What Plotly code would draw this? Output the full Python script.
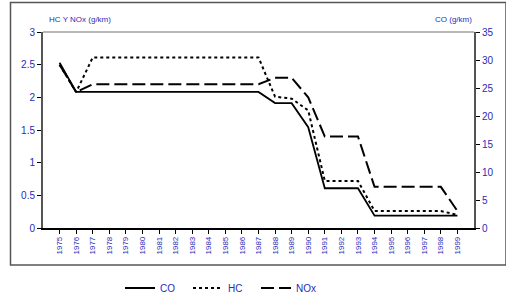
import plotly.graph_objects as go

years = list(range(1975, 2000))
year_labels = [str(y) for y in years]

# CO in g/km (right axis)
co = [29.5, 24.3, 24.3, 24.3, 24.3, 24.3, 24.3, 24.3, 24.3, 24.3, 24.3, 24.3, 24.3,
      22.3, 22.3, 18.0, 7.1, 7.1, 7.1, 2.2, 2.2, 2.2, 2.2, 2.2, 2.2]
# HC in g/km (left axis)
hc = [2.5, 2.08, 2.61, 2.61, 2.61, 2.61, 2.61, 2.61, 2.61, 2.61, 2.61, 2.61, 2.61,
      2.01, 1.98, 1.8, 0.72, 0.72, 0.72, 0.26, 0.26, 0.26, 0.26, 0.26, 0.2]
# NOx in g/km (left axis)
nox = [2.5, 2.08, 2.2, 2.2, 2.2, 2.2, 2.2, 2.2, 2.2, 2.2, 2.2, 2.2, 2.2,
       2.3, 2.3, 2.0, 1.4, 1.4, 1.4, 0.63, 0.63, 0.63, 0.63, 0.63, 0.26]

left_ticks = [0, 0.5, 1, 1.5, 2, 2.5, 3]
right_ticks = [0, 5, 10, 15, 20, 25, 30, 35]

BLUE = "#2A2ABA"
FONT = "Liberation Sans, Arial, sans-serif"

fig = go.Figure()
fig.add_trace(go.Scatter(x=years, y=co, name="CO", yaxis="y2", mode="lines",
                         line=dict(color="black", width=1.8)))
fig.add_trace(go.Scatter(x=years, y=hc, name="HC", mode="lines",
                         line=dict(color="black", width=2, dash="3px,3px")))
fig.add_trace(go.Scatter(x=years, y=nox, name="NOx", mode="lines",
                         line=dict(color="black", width=2, dash="13px,5px")))

W, H = 506, 298
L, R, T, B = 43, 32, 32, 70
pw, ph = W - L - R, H - T - B

def px(x):
    return (x - L) / pw

def py(y):
    return (H - B - y) / ph

fig.update_layout(
    width=W, height=H,
    margin=dict(l=L, r=R, t=T, b=B, pad=0, autoexpand=False),
    paper_bgcolor="white", plot_bgcolor="white",
    font=dict(family=FONT, color=BLUE, size=10),
    showlegend=True,
    legend=dict(orientation="h", xref="container", yref="container",
                x=222 / W, xanchor="center", y=(H - 288) / H, yanchor="middle",
                font=dict(size=10, color=BLUE), bgcolor="rgba(0,0,0,0)",
                entrywidth=23, entrywidthmode="pixels", tracegroupgap=0),
    xaxis=dict(range=[1974, 2000], tickmode="array", tickvals=years, ticktext=year_labels,
               tickangle=-90, tickfont=dict(size=8, color=BLUE), ticks="outside",
               ticklen=4, tickcolor="black", showline=True, linecolor="black", linewidth=1.5,
               showgrid=False, zeroline=False, fixedrange=True),
    yaxis=dict(range=[0, 3], tickmode="array", tickvals=left_ticks,
               ticktext=[f"{v:g}" for v in left_ticks], ticks="outside", ticklen=4,
               tickcolor="black", showline=True, linecolor="#555", linewidth=2,
               showgrid=False, zeroline=False, tickfont=dict(size=10, color=BLUE)),
    yaxis2=dict(range=[0, 35], overlaying="y", side="right", tickmode="array",
                tickvals=right_ticks, ticktext=[str(v) for v in right_ticks],
                ticks="outside", ticklen=4, tickcolor="black", showline=True,
                linecolor="#555", linewidth=2, showgrid=False, zeroline=False,
                tickfont=dict(size=10, color=BLUE)),
    shapes=[
        dict(type="line", xref="paper", yref="paper", x0=0, x1=1, y0=1, y1=1,
             line=dict(color="#A0A0A0", width=1.5), layer="below"),
        dict(type="rect", xref="paper", yref="paper", x0=px(10.5), x1=px(506), y0=py(265),
             y1=py(2.5), line=dict(color="#555", width=1.5), fillcolor="rgba(0,0,0,0)"),
    ],
    annotations=[
        dict(text="HC Y NOx (g/km)", xref="paper", yref="paper", x=px(47), y=py(20),
             xanchor="left", yanchor="middle", showarrow=False, font=dict(size=8, color=BLUE)),
        dict(text="CO (g/km)", xref="paper", yref="paper", x=px(474), y=py(20),
             xanchor="right", yanchor="middle", showarrow=False, font=dict(size=8, color=BLUE)),
    ],
)

fig.write_html("out.html", config={"displayModeBar": False, "staticPlot": True},
               post_script="document.body.style.margin='0';document.body.style.overflow='hidden';")
